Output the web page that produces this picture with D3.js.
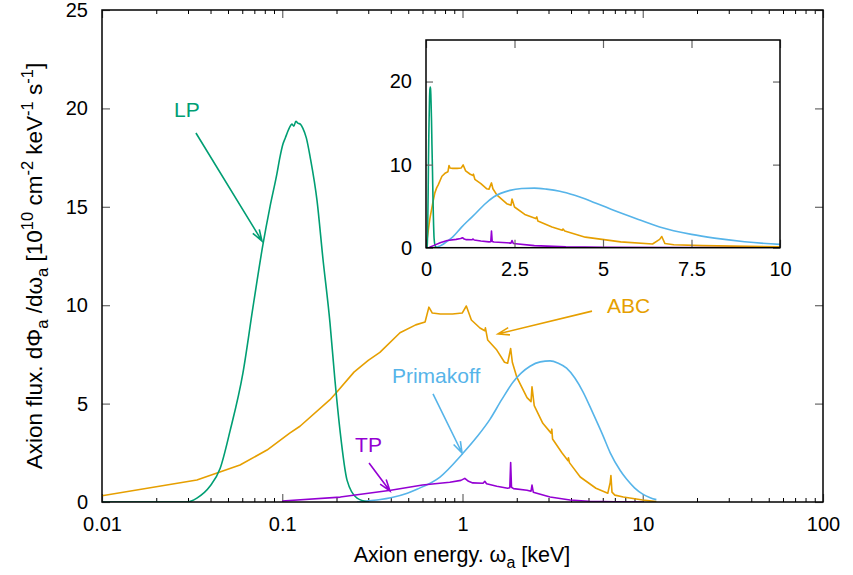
<!DOCTYPE html>
<html lang="en">
<head>
<meta charset="utf-8" />
<title>Axion flux</title>
<script src="https://cdn.jsdelivr.net/npm/d3@7/dist/d3.min.js"></script>
<style>
  body { margin: 0; background: #fff; }
  svg text { font-family: "Liberation Sans", Arial, Helvetica, sans-serif; fill: #000; }
</style>
</head>
<body>
<script>
// ---- data (energy in keV, flux in 1e10 cm^-2 keV^-1 s^-1)
var lpEnergy = [0.01, 0.02, 0.0296, 0.0336, 0.0397, 0.0452, 0.0513, 0.0605, 0.0688, 0.0782, 0.0855, 0.0935,
                0.097, 0.101, 0.104, 0.107, 0.110, 0.113, 0.116, 0.119, 0.122, 0.126, 0.130, 0.136, 0.143, 0.156,
                0.168, 0.184, 0.196, 0.209, 0.229, 0.26, 0.30];
var lpFlux   = [0, 0, 0, 0.2, 0.8, 1.7, 3.6, 6.55, 9.9, 13.1, 15.0, 16.7,
                17.5, 18.2, 18.5, 18.8, 19.05, 19.2, 19.1, 19.35, 19.25, 19.2, 19.0, 18.5, 17.5, 15.3,
                12.4, 9.1, 6.2, 3.66, 1.1, 0.2, 0];

var abcEnergy = [0.01, 0.0336, 0.0583, 0.0823, 0.110, 0.1254, 0.184, 0.2015, 0.25, 0.30, 0.348, 0.45, 0.55, 0.62,
                 0.651, 0.68, 0.753, 0.88, 0.996, 1.05, 1.12, 1.25, 1.33, 1.34, 1.38, 1.55, 1.71, 1.78, 1.85, 1.89,
                 2.0, 2.28, 2.40, 2.43, 2.50, 2.79, 3.10, 3.13, 3.16, 3.56, 3.85, 3.87, 3.92, 4.5, 5.5, 6.4, 6.6,
                 6.66, 6.75, 7.0, 7.8, 10, 11.9];
var abcFlux   = [0.32, 1.12, 1.88, 2.64, 3.5, 3.85, 5.2, 5.6, 6.6, 7.2, 7.6, 8.6, 9.0, 9.15,
                 9.9, 9.6, 9.55, 9.55, 9.6, 9.96, 9.25, 8.84, 8.7, 8.85, 8.23, 7.72, 7.1, 7.05, 7.8, 7.1,
                 6.35, 5.3, 5.1, 5.85, 4.9, 4.0, 3.5, 3.7, 3.2, 2.5, 2.1, 2.25, 2.0, 1.27, 0.7, 0.45, 1.0,
                 1.35, 0.5, 0.35, 0.25, 0.1, 0.02];

var primEnergy = [0.26, 0.30, 0.35, 0.40, 0.494, 0.559, 0.75, 1.0, 1.2, 1.42, 1.65, 1.91, 2.37, 2.7, 3.06, 3.4,
                  3.78, 4.2, 4.66, 5.3, 6.0, 6.6, 7.5, 8.15, 9.0, 10.0, 11.0, 11.9];
var primFlux   = [0.0, 0.06, 0.13, 0.22, 0.45, 0.65, 1.27, 2.45, 3.3, 4.2, 5.2, 6.1, 6.9, 7.12, 7.17, 7.05,
                  6.8, 6.3, 5.6, 4.5, 3.4, 2.5, 1.6, 1.15, 0.72, 0.4, 0.22, 0.12];

var tpEnergy = [0.1, 0.21, 0.4, 0.6, 0.85, 0.98, 1.03, 1.08, 1.14, 1.3, 1.33, 1.36, 1.55, 1.78, 1.83, 1.85, 1.87,
                1.92, 2.28, 2.40, 2.43, 2.47, 3.06, 3.95, 5.0, 7.0, 10.0];
var tpFlux   = [0.05, 0.25, 0.6, 0.86, 1.0, 1.1, 1.2, 1.05, 0.97, 0.95, 1.05, 0.93, 0.8, 0.7, 0.72, 2.0, 0.75,
                0.68, 0.6, 0.55, 0.86, 0.5, 0.25, 0.1, 0.04, 0.01, 0.0];

var xTicks = [0.01, 0.1, 1, 10, 100];
var xTickLabels = ["0.01", "0.1", "1", "10", "100"];
var yTicks = [0, 5, 10, 15, 20, 25];
var insetXTicks = [0, 2.5, 5, 7.5, 10];
var insetXTickLabels = ["0", "2.5", "5", "7.5", "10"];
var insetYTicks = [0, 10, 20];

var colors = { lp: "#009e73", abc: "#e69f00", prim: "#56b4e9", tp: "#9400d3" };

// annotation labels and arrows, in data coordinates of the main plot
var labels = [
  { text: "LP",        x: 0.0251, y: 19.56, color: colors.lp,   from: [0.0332, 18.75], to: [0.0772, 13.26] },
  { text: "ABC",       x: 6.33,   y: 9.6,   color: colors.abc,  from: [5.23, 9.7],     to: [1.574, 8.54] },
  { text: "Primakoff", x: 0.406,  y: 6.05,  color: colors.prim, from: [0.686, 5.49],   to: [0.994, 2.49] },
  { text: "TP",        x: 0.2535, y: 2.54,  color: colors.tp,   from: [0.303, 1.98],   to: [0.396, 0.56] }
];

var width = 853, height = 575;

var svg = d3.select("body").append("svg")
    .attr("width", width)
    .attr("height", height);

var x = d3.scaleLog().domain([0.01, 100]).range([102, 823]);
var y = d3.scaleLinear().domain([0, 25]).range([502, 10]);

var xi = d3.scaleLinear().domain([0, 10]).range([426, 780]);
var yi = d3.scaleLinear().domain([0, 25]).range([247.7, 40]);

var minorTicks = [];
[0.01, 0.1, 1, 10].forEach(function(d) {
  for (var k = 2; k <= 9; k++) minorTicks.push(d * k);
});

function styleTicks(g, color, width) {
  g.select(".domain").remove();
  g.selectAll(".tick line").attr("stroke", color).attr("stroke-width", width);
}

// ---- main axes (ticks point inward, mirrored on top / right)
svg.append("g").attr("transform", "translate(0,502)")
    .call(d3.axisBottom(x).tickValues(xTicks).tickFormat(function(d, i) { return xTickLabels[i]; })
        .tickSize(-8).tickPadding(15))
    .call(styleTicks, "#666", 1.2)
    .selectAll("text").attr("font-size", 20);

svg.append("g").attr("transform", "translate(0,502)")
    .call(d3.axisBottom(x).tickValues(minorTicks).tickFormat("").tickSize(-4))
    .call(styleTicks, "#000", 1);

svg.append("g").attr("transform", "translate(0,10)")
    .call(d3.axisTop(x).tickValues(xTicks).tickFormat("").tickSize(-8))
    .call(styleTicks, "#666", 1.2);

svg.append("g").attr("transform", "translate(0,10)")
    .call(d3.axisTop(x).tickValues(minorTicks).tickFormat("").tickSize(-4))
    .call(styleTicks, "#000", 1);

svg.append("g").attr("transform", "translate(102,0)")
    .call(d3.axisLeft(y).tickValues(yTicks).tickSize(-8).tickPadding(14))
    .call(styleTicks, "#666", 1.2)
    .selectAll("text").attr("font-size", 20);

svg.append("g").attr("transform", "translate(823,0)")
    .call(d3.axisRight(y).tickValues(yTicks).tickFormat("").tickSize(-8))
    .call(styleTicks, "#666", 1.2);

svg.append("defs").selectAll("clipPath")
    .data([["clipMain", x, y], ["clipInset", xi, yi]])
    .enter().append("clipPath").attr("id", function(d) { return d[0]; })
    .append("rect")
    .attr("x", function(d) { return d[1].range()[0]; })
    .attr("y", function(d) { return d[2].range()[1]; })
    .attr("width", function(d) { return d[1].range()[1] - d[1].range()[0]; })
    .attr("height", function(d) { return d[2].range()[0] - d[2].range()[1]; });

// smooth curves for the broad shapes, straight segments where there are line spikes
var series = [
  [abcEnergy, abcFlux, colors.abc, d3.curveLinear],
  [primEnergy, primFlux, colors.prim, d3.curveMonotoneX],
  [lpEnergy, lpFlux, colors.lp, d3.curveMonotoneX],
  [tpEnergy, tpFlux, colors.tp, d3.curveLinear]
];

function drawCurves(g, xs, ys) {
  series.forEach(function(s) {
    var line = d3.line()
        .x(function(d) { return xs(d[0]); })
        .y(function(d) { return ys(d[1]); })
        .curve(s[3]);
    g.append("path")
        .datum(d3.zip(s[0], s[1]))
        .attr("d", line)
        .attr("fill", "none")
        .attr("stroke", s[2])
        .attr("stroke-width", 1.6)
        .attr("stroke-linejoin", "round");
  });
}

var main = svg.append("g").attr("clip-path", "url(#clipMain)");
drawCurves(main, x, y);

// border of main plot
svg.append("rect")
    .attr("x", 102).attr("y", 10)
    .attr("width", 823 - 102).attr("height", 502 - 10)
    .attr("fill", "none").attr("stroke", "#000").attr("stroke-width", 1.5);

// ---- annotations
labels.forEach(function(d) {
  svg.append("text")
      .attr("x", x(d.x)).attr("y", y(d.y))
      .attr("font-size", 21)
      .style("fill", d.color)
      .text(d.text);

  var x1 = x(d.from[0]), y1 = y(d.from[1]), x2 = x(d.to[0]), y2 = y(d.to[1]);
  var ang = Math.atan2(y2 - y1, x2 - x1), len = 12, spread = 0.32;
  var head = "M" + (x2 - len * Math.cos(ang - spread)) + "," + (y2 - len * Math.sin(ang - spread)) +
             "L" + x2 + "," + y2 +
             "L" + (x2 - len * Math.cos(ang + spread)) + "," + (y2 - len * Math.sin(ang + spread));
  svg.append("path")
      .attr("d", "M" + x1 + "," + y1 + "L" + x2 + "," + y2 + head)
      .attr("fill", "none")
      .attr("stroke", d.color)
      .attr("stroke-width", 1.6);
});

// ---- axis titles
svg.append("text")
    .attr("x", 462).attr("y", 562)
    .attr("text-anchor", "middle")
    .attr("font-size", 21.5)
    .call(function(t) {
      t.append("tspan").text("Axion energy. \u03c9");
      t.append("tspan").attr("dy", 6).attr("font-size", 16).text("a");
      t.append("tspan").attr("dy", -6).text(" [keV]");
    });

var yParts = [
  ["Axion flux. d\u03a6", 0], ["a", 1], [" /d\u03c9", 0], ["a", 1], [" [10", 0], ["10", -1],
  [" cm", 0], ["-2", -1], [" keV", 0], ["-1", -1], [" s", 0], ["-1", -1], ["]", 0]
];
var ylab = svg.append("text")
    .attr("transform", "translate(42,266) rotate(-90)")
    .attr("text-anchor", "middle")
    .attr("font-size", 22.5);
var shift = 0;
yParts.forEach(function(p) {
  var target = p[1] === 1 ? 6 : (p[1] === -1 ? -9 : 0);
  ylab.append("tspan")
      .attr("dy", target - shift)
      .attr("font-size", p[1] === 0 ? 22.5 : 16.5)
      .text(p[0]);
  shift = target;
});

// ---- inset
var inset = svg.append("g");
inset.append("rect")
    .attr("x", 426).attr("y", 40).attr("width", 780 - 426).attr("height", 247.7 - 40)
    .attr("fill", "#fff");

var insetCurves = inset.append("g").attr("clip-path", "url(#clipInset)");
drawCurves(insetCurves, xi, yi);

inset.append("g").attr("transform", "translate(0,247.7)")
    .call(d3.axisBottom(xi).tickValues(insetXTicks).tickFormat(function(d, i) { return insetXTickLabels[i]; })
        .tickSize(-8).tickPadding(14))
    .call(styleTicks, "#666", 1.2)
    .selectAll("text").attr("font-size", 20);

inset.append("g").attr("transform", "translate(0,40)")
    .call(d3.axisTop(xi).tickValues(insetXTicks).tickFormat("").tickSize(-8))
    .call(styleTicks, "#666", 1.2);

inset.append("g").attr("transform", "translate(426,0)")
    .call(d3.axisLeft(yi).tickValues(insetYTicks).tickSize(-7).tickPadding(14))
    .call(styleTicks, "#666", 1.2)
    .selectAll("text").attr("font-size", 20);

inset.append("g").attr("transform", "translate(780,0)")
    .call(d3.axisRight(yi).tickValues(insetYTicks).tickFormat("").tickSize(-7))
    .call(styleTicks, "#666", 1.2);

inset.append("rect")
    .attr("x", 426).attr("y", 40).attr("width", 780 - 426).attr("height", 247.7 - 40)
    .attr("fill", "none").attr("stroke", "#000").attr("stroke-width", 1.5);
</script>
</body>
</html>
